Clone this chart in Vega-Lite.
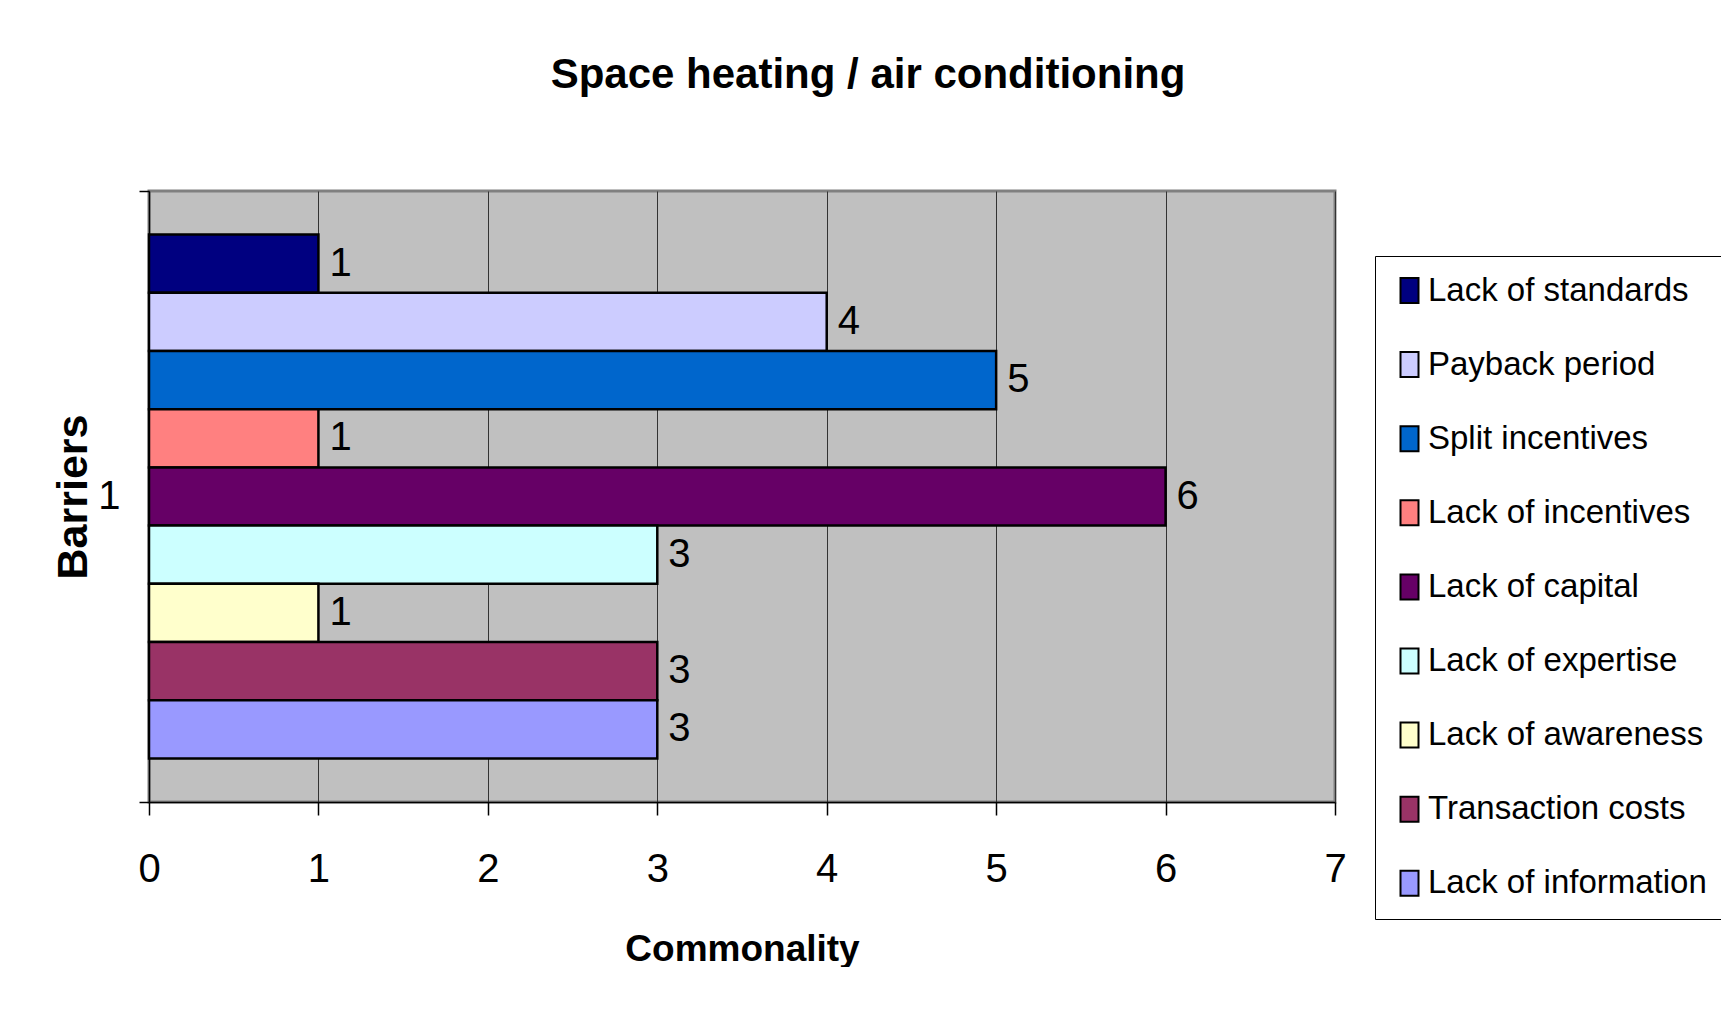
{
  "$schema": "https://vega.github.io/schema/vega-lite/v6.json",
  "width": 1186,
  "height": 611,
  "padding": {"left": 52, "top": 54, "right": 0, "bottom": 0},
  "background": "white",
  "title": {
    "text": "Space heating / air conditioning",
    "font": "Liberation Sans, Arial, sans-serif",
    "fontWeight": "bold",
    "fontSize": 42,
    "color": "black",
    "anchor": "middle",
    "dx": 126,
    "offset": 74
  },
  "data": {
    "values": [
      {"cat": "1", "barrier": "Lack of standards", "value": 1},
      {"cat": "1", "barrier": "Payback period", "value": 4},
      {"cat": "1", "barrier": "Split incentives", "value": 5},
      {"cat": "1", "barrier": "Lack of incentives", "value": 1},
      {"cat": "1", "barrier": "Lack of capital", "value": 6},
      {"cat": "1", "barrier": "Lack of expertise", "value": 3},
      {"cat": "1", "barrier": "Lack of awareness", "value": 1},
      {"cat": "1", "barrier": "Transaction costs", "value": 3},
      {"cat": "1", "barrier": "Lack of information", "value": 3}
    ]
  },
  "encoding": {
    "y": {
      "field": "cat",
      "type": "nominal",
      "title": "Barriers",
      "scale": {"paddingInner": 0, "paddingOuter": 0},
      "axis": {
        "tickBand": "extent",
        "labelFont": "Liberation Sans, Arial, sans-serif",
        "labelFontSize": 40,
        "labelColor": "black",
        "labelAngle": 0,
        "labelPadding": 19,
        "tickSize": 10,
        "tickColor": "black",
        "tickWidth": 1.5,
        "domainColor": "black",
        "domainWidth": 1.5,
        "grid": false,
        "titleFont": "Liberation Sans, Arial, sans-serif",
        "titleFontWeight": "bold",
        "titleFontSize": 43,
        "titleColor": "black",
        "titlePadding": 2
      }
    },
    "yOffset": {
      "field": "barrier",
      "type": "nominal",
      "sort": ["Lack of standards", "Payback period", "Split incentives", "Lack of incentives", "Lack of capital", "Lack of expertise", "Lack of awareness", "Transaction costs", "Lack of information"],
      "scale": {"paddingInner": 0, "paddingOuter": 0.745}
    },
    "x": {
      "field": "value",
      "type": "quantitative",
      "title": "Commonality",
      "scale": {"domain": [0, 7], "nice": false},
      "axis": {
        "values": [0, 1, 2, 3, 4, 5, 6, 7],
        "format": "d",
        "grid": true,
        "gridColor": "#333333",
        "gridWidth": 1,
        "labelFlush": false,
        "labelOverlap": false,
        "labelFont": "Liberation Sans, Arial, sans-serif",
        "labelFontSize": 40,
        "labelColor": "black",
        "labelPadding": 34,
        "tickSize": 13,
        "tickColor": "black",
        "tickWidth": 1.5,
        "domainColor": "black",
        "domainWidth": 1.5,
        "titleFont": "Liberation Sans, Arial, sans-serif",
        "titleFontWeight": "bold",
        "titleFontSize": 37,
        "titleColor": "black",
        "titlePadding": 42
      }
    }
  },
  "layer": [
    {
      "mark": {"type": "bar", "stroke": "black", "strokeWidth": 2.5, "opacity": 1},
      "encoding": {
        "color": {
          "field": "barrier",
          "type": "nominal",
          "scale": {
            "domain": ["Lack of standards", "Payback period", "Split incentives", "Lack of incentives", "Lack of capital", "Lack of expertise", "Lack of awareness", "Transaction costs", "Lack of information"],
            "range": ["#000080", "#CCCCFF", "#0066CC", "#FF8080", "#660066", "#CCFFFF", "#FFFFCC", "#993366", "#9999FF"]
          },
          "legend": {
            "orient": "none",
            "legendX": 1226,
            "legendY": 65,
            "title": null,
            "labelFont": "Liberation Sans, Arial, sans-serif",
            "labelFontSize": 33,
            "labelColor": "black",
            "labelLimit": 400,
            "labelOffset": 2,
            "symbolType": "M-0.72,-1L0.72,-1L0.72,1L-0.72,1Z",
            "symbolSize": 625,
            "symbolStrokeColor": "black",
            "symbolStrokeWidth": 2,
            "symbolOpacity": 1,
            "rowPadding": 40.1,
            "padding": 18,
            "strokeColor": "black",
            "fillColor": "white"
          }
        }
      }
    },
    {
      "mark": {
        "type": "text",
        "align": "left",
        "baseline": "middle",
        "dx": 11,
        "font": "Liberation Sans, Arial, sans-serif",
        "fontSize": 40,
        "color": "black"
      },
      "encoding": {
        "text": {"field": "value", "type": "quantitative"}
      }
    }
  ],
  "config": {
    "view": {"fill": "#C0C0C0", "stroke": "#808080", "strokeWidth": 3}
  }
}
